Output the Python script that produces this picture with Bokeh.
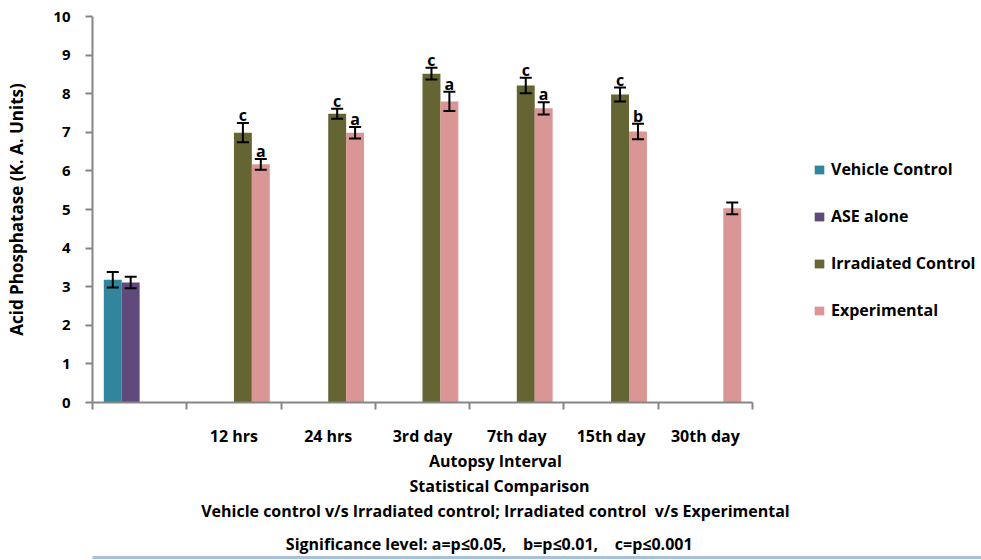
from bokeh.plotting import figure
from bokeh.models import (Range1d, FixedTicker, ColumnDataSource, Whisker, TeeHead,
                          Legend, LegendItem, LinearAxis)
from bokeh.core.properties import value
from bokeh.embed import file_html
from bokeh.resources import INLINE

# ---------------- data ----------------
categories = ["", "12 hrs", "24 hrs", "3rd day", "7th day", "15th day", "30th day"]
series_names = ["Vehicle Control", "ASE alone", "Irradiated Control", "Experimental"]
series_colors = ["#31859C", "#604A7B", "#656433", "#D99694"]

vehicle_control = [3.18, None, None, None, None, None, None]
vehicle_control_err = [0.20, None, None, None, None, None, None]
ase_alone = [3.11, None, None, None, None, None, None]
ase_alone_err = [0.15, None, None, None, None, None, None]
irradiated_control = [None, 6.99, 7.48, 8.52, 8.21, 7.98, None]
irradiated_control_err = [None, 0.25, 0.13, 0.15, 0.20, 0.18, None]
experimental = [None, 6.17, 6.99, 7.80, 7.62, 7.02, 5.03]
experimental_err = [None, 0.14, 0.15, 0.25, 0.16, 0.20, 0.15]

vehicle_sig = [None] * 7
ase_sig = [None] * 7
irradiated_sig = [None, "c", "c", "c", "c", "c", None]
experimental_sig = [None, "a", "a", "a", "a", "b", None]

y_ticks = [0, 1, 2, 3, 4, 5, 6, 7, 8, 9, 10]

NB = "\u00a0"
below_lines = ["Autopsy Interval",
               "Statistical Comparison",
               "Vehicle control v/s Irradiated control; Irradiated control " + NB + "v/s Experimental",
               "Significance level: a=p\u22640.05, " + NB * 3 + "b=p\u22640.01, " + NB * 3 + "c=p\u22640.001"]

series_values = [vehicle_control, ase_alone, irradiated_control, experimental]
series_errs = [vehicle_control_err, ase_alone_err, irradiated_control_err, experimental_err]
series_sigs = [vehicle_sig, ase_sig, irradiated_sig, experimental_sig]

FONT = "Open Sans"
AXIS_COLOR = "#868686"

# geometry: frame spans x 92..981 px; categories 94.29 px wide
LEFT, RIGHT, CAT_W = 92, 981, 94.29
x_end = (RIGHT - LEFT) / CAT_W

p = figure(width=981, height=560, output_backend="svg", toolbar_location=None,
           x_range=Range1d(0, x_end), y_range=Range1d(0, 10),
           min_border_left=LEFT, min_border_right=0, min_border_top=16, min_border_bottom=158)
p.outline_line_color = None
p.xgrid.grid_line_color = None
p.ygrid.grid_line_color = None
p.background_fill_color = "white"
p.border_fill_color = "white"

bar_w = 0.19
offsets = [-1.5 * bar_w, -0.5 * bar_w, 0.5 * bar_w, 1.5 * bar_w]

legend_items = []
for name, color, vals, errs, sigs, off in zip(series_names, series_colors, series_values,
                                              series_errs, series_sigs, offsets):
    xs, tops, ups, lows, labs = [], [], [], [], []
    for i, v in enumerate(vals):
        if v is None:
            continue
        xs.append(i + 0.5 + off)
        tops.append(v)
        ups.append(v + errs[i])
        lows.append(v - errs[i])
        labs.append(sigs[i] if sigs[i] is not None else "")
    src = ColumnDataSource(dict(x=xs, top=tops, upper=ups, lower=lows, sig=labs))
    r = p.vbar(x="x", top="top", bottom=0, width=bar_w, source=src,
               fill_color=color, line_color=None)
    legend_items.append(LegendItem(label=name, renderers=[r]))
    w = Whisker(base="x", upper="upper", lower="lower", source=src, level="overlay",
                line_color="black", line_width=2,
                upper_head=TeeHead(size=12, line_color="black", line_width=2),
                lower_head=TeeHead(size=12, line_color="black", line_width=2))
    p.add_layout(w)
    p.text(x="x", y="upper", text="sig", source=src, text_align="center",
           text_baseline="alphabetic", y_offset=-8, text_font=value(FONT),
           text_font_style="bold", text_font_size="16px", text_color="black")

# y axis
yax = p.yaxis[0]
yax.ticker = FixedTicker(ticks=y_ticks, minor_ticks=[])
yax.axis_line_color = AXIS_COLOR
yax.axis_line_width = 2
yax.major_tick_line_color = AXIS_COLOR
yax.major_tick_line_width = 2
yax.major_tick_out = 7
yax.major_tick_in = 0
yax.minor_tick_line_color = None
yax.major_label_standoff = 15
yax.major_label_text_font = FONT
yax.major_label_text_font_style = "bold"
yax.major_label_text_font_size = "15px"
yax.major_label_text_color = "black"
yax.axis_label = "Acid Phosphatase (K. A. Units)"
yax.axis_label_text_font = FONT
yax.axis_label_text_font_style = "bold"
yax.axis_label_text_font_size = "17px"
yax.axis_label_text_color = "black"
yax.axis_label_standoff = 22

# x axis: ticks at category boundaries, labels at centres, limited to the categories
ncat = len(categories)
xax = p.xaxis[0]
centres = [i + 0.5 for i in range(ncat)]
xax.bounds = (0, ncat)
xax.ticker = FixedTicker(ticks=centres, minor_ticks=list(range(ncat + 1)))
xax.major_label_overrides = {c: lab for c, lab in zip(centres, categories)}
xax.axis_line_color = AXIS_COLOR
xax.axis_line_width = 2
xax.major_tick_line_color = None
xax.major_tick_out = 0
xax.major_tick_in = 0
xax.minor_tick_line_color = AXIS_COLOR
xax.minor_tick_line_width = 2
xax.minor_tick_out = 7
xax.minor_tick_in = 0
xax.major_label_standoff = 15
xax.major_label_text_font = FONT
xax.major_label_text_font_style = "bold"
xax.major_label_text_font_size = "16px"
xax.major_label_text_color = "black"

# text lines under the axis: label-only axes; the labels are centred on the panel,
# so trailing no-break spaces move each line left onto its place in the reference
panel_centre = (LEFT + RIGHT) / 2
centre_px = [495, 500, 495, 489]
standoffs = [0, 0, 0, 8]
LINE_FS = 16
space_w = 0.26 * LINE_FS
for txt, cpx, so in zip(below_lines, centre_px, standoffs):
    pad = int(round(2 * (panel_centre - cpx) / space_w))
    ax = LinearAxis(ticker=FixedTicker(ticks=[]),
                    axis_line_color=None, major_tick_line_color=None,
                    minor_tick_line_color=None, major_tick_out=0, minor_tick_out=0,
                    major_label_standoff=0, major_label_text_font_size="0px",
                    axis_label=txt + NB * pad, axis_label_standoff=so,
                    axis_label_text_font=FONT, axis_label_text_font_style="bold",
                    axis_label_text_font_size=f"{LINE_FS}px", axis_label_text_color="black")
    p.add_layout(ax, "below")

# thin light-blue rule at the very bottom of the picture
rule = LinearAxis(ticker=FixedTicker(ticks=[]), bounds=(-LEFT / CAT_W, x_end),
                  axis_line_color="#A9C0DC", axis_line_width=3,
                  major_tick_line_color=None, minor_tick_line_color=None,
                  major_tick_out=0, minor_tick_out=0, major_label_standoff=0,
                  major_label_text_font_size="0px")
p.add_layout(rule, "below")

# legend inside the (wide) frame, right of the categories
legend = Legend(items=legend_items, location=(721, 81), orientation="vertical",
                glyph_width=12, glyph_height=11, label_standoff=6,
                label_text_font=FONT, label_text_font_style="bold",
                label_text_font_size="16px", label_text_color="black",
                label_height=18, spacing=25, padding=0, margin=0,
                border_line_color=None, background_fill_alpha=0)
p.add_layout(legend)

open("out.html", "w").write(file_html(p, INLINE))
